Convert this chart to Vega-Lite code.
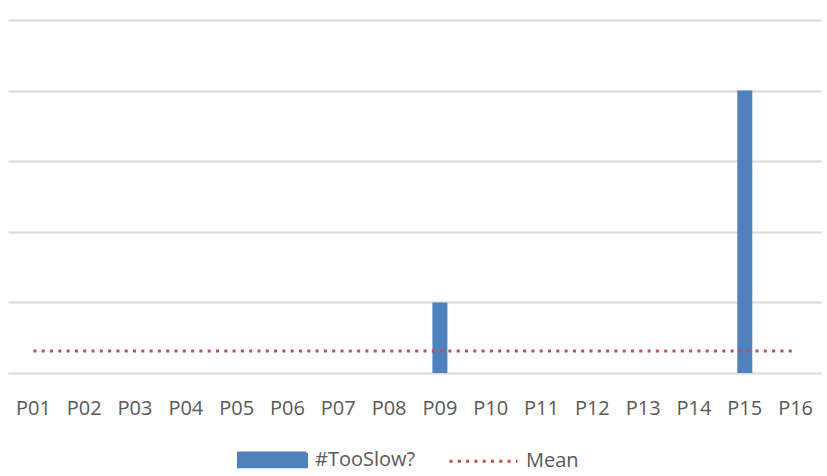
{
  "$schema": "https://vega.github.io/schema/vega-lite/v6.json",
  "width": 813,
  "height": 353,
  "autosize": {"type": "none"},
  "padding": {"left": 8, "top": 20, "right": 6, "bottom": 103},
  "background": "white",
  "config": {"view": {"stroke": null}, "font": "Open Sans"},
  "datasets": {
    "people": [
      {"participant": "P01", "tooSlow": 0},
      {"participant": "P02", "tooSlow": 0},
      {"participant": "P03", "tooSlow": 0},
      {"participant": "P04", "tooSlow": 0},
      {"participant": "P05", "tooSlow": 0},
      {"participant": "P06", "tooSlow": 0},
      {"participant": "P07", "tooSlow": 0},
      {"participant": "P08", "tooSlow": 0},
      {"participant": "P09", "tooSlow": 1},
      {"participant": "P10", "tooSlow": 0},
      {"participant": "P11", "tooSlow": 0},
      {"participant": "P12", "tooSlow": 0},
      {"participant": "P13", "tooSlow": 0},
      {"participant": "P14", "tooSlow": 0},
      {"participant": "P15", "tooSlow": 4},
      {"participant": "P16", "tooSlow": 0}
    ],
    "mean": [
      {"first": "P01", "last": "P16", "mean": 0.3125}
    ]
  },
  "layer": [
    {
      "data": {"name": "people"},
      "mark": {"type": "bar", "width": 15},
      "encoding": {
        "x": {
          "field": "participant",
          "type": "nominal",
          "sort": null,
          "scale": {"paddingInner": 0, "paddingOuter": 0},
          "axis": {
            "title": null,
            "domain": false,
            "ticks": false,
            "labelAngle": 0,
            "labelFontSize": 20,
            "labelColor": "#595959",
            "labelPadding": 25,
            "grid": false
          }
        },
        "y": {
          "field": "tooSlow",
          "type": "quantitative",
          "scale": {"domain": [0, 5], "nice": false},
          "axis": {
            "title": null,
            "labels": false,
            "ticks": false,
            "domain": false,
            "values": [0, 1, 2, 3, 4, 5],
            "grid": true,
            "gridColor": "#d9d9d9",
            "gridWidth": 2
          }
        },
        "color": {
          "datum": "#TooSlow?",
          "type": "nominal",
          "scale": {"domain": ["#TooSlow?", "Mean"], "range": ["#4f81bd", "#c0504d"]},
          "legend": {
            "orient": "none",
            "legendX": 229,
            "legendY": 404,
            "direction": "horizontal",
            "title": null,
            "labelFontSize": 20,
            "labelColor": "#595959",
            "labelOffset": 7,
            "columnPadding": 27,
            "symbolSize": 4624,
            "symbolType": "M-1,-0.2H1V0.2H-1Z",
            "encode": {
              "symbols": {
                "update": {
                  "shape": {"signal": "datum.value === 'Mean' ? 'M-1,0H1' : 'M-1,-0.2H1V0.2H-1Z'"},
                  "fill": {"signal": "datum.value === 'Mean' ? 'transparent' : '#4f81bd'"},
                  "stroke": {"signal": "datum.value === 'Mean' ? '#c0504d' : 'transparent'"},
                  "strokeWidth": {"value": 3},
                  "strokeDash": {"signal": "datum.value === 'Mean' ? [3, 5.3] : [1, 0]"},
                  "opacity": {"value": 1}
                }
              }
            }
          }
        }
      }
    },
    {
      "data": {"name": "mean"},
      "mark": {"type": "rule", "strokeWidth": 3, "strokeDash": [3, 5.3]},
      "encoding": {
        "x": {"field": "first", "type": "nominal"},
        "x2": {"field": "last"},
        "y": {"field": "mean", "type": "quantitative"},
        "color": {"datum": "Mean", "type": "nominal"}
      }
    }
  ]
}
